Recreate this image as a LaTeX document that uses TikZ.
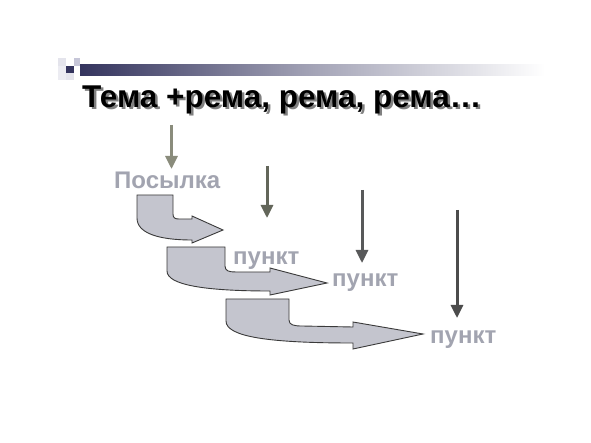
\documentclass[tikz,border=0pt]{standalone}
\usepackage{fontspec}
\setmainfont{Liberation Sans}
\usetikzlibrary{arrows.meta}
\definecolor{navy}{HTML}{34345E}
\definecolor{lav}{HTML}{C6C6D8}
\definecolor{pale}{HTML}{E4E4EC}
\definecolor{labelgray}{HTML}{A2A4B0}
\definecolor{bentfill}{HTML}{C4C5CE}
\definecolor{bentline}{HTML}{3A3A3A}
\definecolor{arrA}{HTML}{8A8C7C}
\definecolor{arrB}{HTML}{63665A}
\definecolor{arrC}{HTML}{58595A}
\definecolor{arrD}{HTML}{4C4C4C}
\tikzset{
  lbl/.style={font=\fontsize{24}{24}\selectfont\bfseries, text=labelgray, inner sep=0pt, anchor=base west},
  bent/.style={fill=bentfill, draw=bentline, line width=0.9pt, line join=miter},
  varrow/.style={line width=3pt, -{Triangle[width=12pt,length=13pt]}},
  ttl/.style={font=\fontsize{31.5}{32}\selectfont\bfseries, inner sep=0pt, anchor=base west}
}
\begin{document}
\begin{tikzpicture}[x=1pt,y=-1pt]
\useasboundingbox (0,0) rectangle (591,443);
\fill[white] (0,0) rectangle (591,443);
% header decoration
\fill[pale] (58,58) rectangle (66,66);
\fill[pale!70] (58,66) rectangle (66,80);
\fill[lav] (74,58) rectangle (80,66);
\fill[pale] (66,73) rectangle (74,80);
\fill[navy] (66,66) rectangle (74,73);
\shade[left color=navy, right color=white, middle color=navy!45] (80,65) rectangle (545,76);
% title
\node[ttl, text=black!50] (titleshadow) at (84.5,109.5) {Тема +рема, рема, рема…};
\node[ttl, text=black] (title) at (82,108) {Тема +рема, рема, рема…};
% labels
\node[lbl] (posylka) at (114,189) {Посылка};
\node[lbl] (p1) at (233,265) {пункт};
\node[lbl] (p2) at (332,287) {пункт};
\node[lbl] (p3) at (430,343) {пункт};
% bent arrows
\draw[bent] (137,195) -- (173,195) -- (173,214) .. controls (173,218) and (175,219) .. (179,219)
  -- (192,219) -- (192,216) -- (223,230) -- (192,243) -- (192,240)
  .. controls (158,240) and (137,233) .. (137,218) -- cycle;
\draw[bent] (167,247) -- (225,247) -- (225,266) .. controls (225,271) and (229,272) .. (236,272)
  -- (270,272) -- (270,268) -- (327,283) -- (270,295) -- (270,291)
  .. controls (205,291) and (167,285) .. (167,271) -- cycle;
\draw[bent] (226,299) -- (289,299) -- (289,320) .. controls (289,325) and (294,326) .. (302,326)
  -- (353,327) -- (353,322) -- (423,334) -- (353,349) -- (353,343)
  .. controls (270,343) and (226,337) .. (226,321) -- cycle;
% vertical arrows
\coordinate (a1s) at (171.5,125);
\coordinate (a1e) at (171.5,169);
\coordinate (a2s) at (267,166);
\coordinate (a2e) at (267,218);
\coordinate (a3s) at (362,190);
\coordinate (a3e) at (362,263);
\coordinate (a4s) at (457,210);
\coordinate (a4e) at (457,318);
\draw[varrow, arrA] (a1s) -- (a1e);
\draw[varrow, arrB] (a2s) -- (a2e);
\draw[varrow, arrC] (a3s) -- (a3e);
\draw[varrow, arrD] (a4s) -- (a4e);
\end{tikzpicture}
\end{document}
